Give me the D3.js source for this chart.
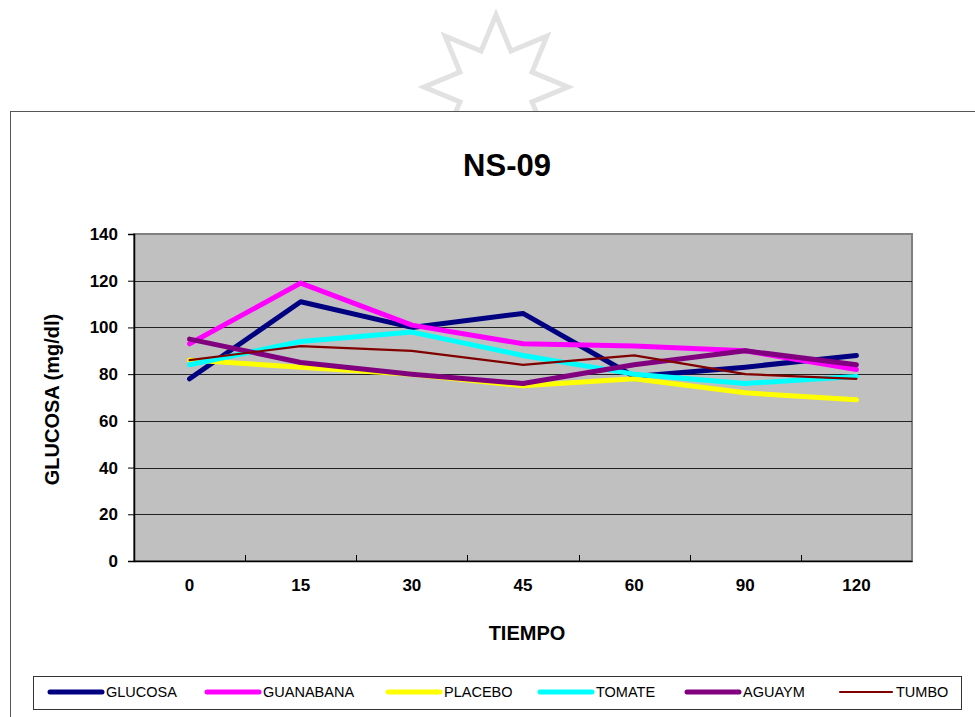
<!DOCTYPE html>
<html>
<head>
<meta charset="utf-8">
<script src="https://cdn.jsdelivr.net/npm/d3@7"></script>
<style>
  body { margin: 0; background: #fff; }
  svg { display: block; font-family: Arial, "Liberation Sans", sans-serif; }
</style>
</head>
<body>
<div id="chart"></div>
<script>
// data
const tiempos = ["0", "15", "30", "45", "60", "90", "120"];
const glucosa = [78, 111, 100, 106, 79, 83, 88];
const guanabana = [93, 119, 101, 93, 92, 90, 82];
const placebo = [86, 83, 80, 75, 78, 72, 69];
const tomate = [84, 94, 98, 88, 80, 76, 79];
const aguaym = [95, 85, 80, 76, 84, 90, 84];
const tumbo = [86, 92, 90, 84, 88, 80, 78];
const yTicks = [0, 20, 40, 60, 80, 100, 120, 140];

const series = [
  {name: "GLUCOSA", values: glucosa, color: "#000080", w: 5},
  {name: "GUANABANA", values: guanabana, color: "#ff00ff", w: 5},
  {name: "PLACEBO", values: placebo, color: "#ffff00", w: 5},
  {name: "TOMATE", values: tomate, color: "#00ffff", w: 5},
  {name: "AGUAYM", values: aguaym, color: "#800080", w: 5},
  {name: "TUMBO", values: tumbo, color: "#800000", w: 2.2}
];

const width = 975, height = 717;
const plot = {left: 134, right: 912, top: 234, bottom: 561};

const svg = d3.select("#chart").append("svg")
  .attr("width", width)
  .attr("height", height);

// background star behind the chart
const star = [];
const cx = 496, cy = 87, R = 72, r = 39;
for (let i = 0; i < 16; i++) {
  const a = -Math.PI / 2 + i * Math.PI / 8;
  const rad = i % 2 === 0 ? R : r;
  star.push([cx + rad * Math.cos(a), cy + rad * Math.sin(a)]);
}
svg.append("polygon")
  .attr("points", star.map(p => p.join(",")).join(" "))
  .attr("fill", "none")
  .attr("stroke", "#e2e2e2")
  .attr("stroke-width", 5);

// chart frame
svg.append("rect")
  .attr("x", 10.5).attr("y", 111.5)
  .attr("width", 980).attr("height", 620)
  .attr("fill", "#fff")
  .attr("stroke", "#555")
  .attr("stroke-width", 1);

svg.append("text")
  .attr("x", 507).attr("y", 176)
  .attr("text-anchor", "middle")
  .style("font-size", "31px")
  .style("font-weight", "bold")
  .text("NS-09");

const x = d3.scaleBand()
  .domain(tiempos)
  .range([plot.left, plot.right]);

const y = d3.scaleLinear()
  .domain([0, 140])
  .range([plot.bottom, plot.top]);

// plot area
svg.append("rect")
  .attr("x", plot.left).attr("y", plot.top)
  .attr("width", plot.right - plot.left)
  .attr("height", plot.bottom - plot.top)
  .attr("fill", "#c0c0c0")
  .attr("stroke", "#808080")
  .attr("stroke-width", 2);

// gridlines
svg.append("g")
  .selectAll("line")
  .data(yTicks.filter(d => d > 0 && d < 140))
  .join("line")
    .attr("x1", plot.left).attr("x2", plot.right)
    .attr("y1", d => Math.round(y(d)) + 0.5)
    .attr("y2", d => Math.round(y(d)) + 0.5)
    .attr("stroke", "#222")
    .attr("stroke-width", 1);

// y axis
const yAxis = svg.append("g")
  .attr("transform", `translate(${plot.left},0)`)
  .call(d3.axisLeft(y).tickValues(yTicks).tickSize(6).tickPadding(10));
yAxis.select(".domain").attr("stroke", "#000").attr("stroke-width", 1.5);
yAxis.selectAll(".tick line").attr("stroke", "#000");
yAxis.selectAll("text")
  .style("font-size", "17px")
  .style("font-weight", "bold")
  .style("font-family", "Arial, 'Liberation Sans', sans-serif");

// x axis
const xAxis = svg.append("g")
  .attr("transform", `translate(0,${plot.bottom})`)
  .call(d3.axisBottom(x).tickSize(0).tickPadding(18));
xAxis.select(".domain").attr("stroke", "#000").attr("stroke-width", 1.5);
xAxis.selectAll("text")
  .style("font-size", "17px")
  .style("font-weight", "bold")
  .style("font-family", "Arial, 'Liberation Sans', sans-serif");

// tick marks between categories
svg.append("g")
  .selectAll("line")
  .data(tiempos.slice(1))
  .join("line")
    .attr("x1", d => Math.round(x(d)) + 0.5)
    .attr("x2", d => Math.round(x(d)) + 0.5)
    .attr("y1", plot.bottom - 6)
    .attr("y2", plot.bottom)
    .attr("stroke", "#000");

// axis titles
svg.append("text")
  .attr("transform", `translate(59,${(plot.top + plot.bottom) / 2 + 2}) rotate(-90)`)
  .attr("text-anchor", "middle")
  .style("font-size", "20px")
  .style("font-weight", "bold")
  .text("GLUCOSA (mg/dl)");

svg.append("text")
  .attr("x", 527).attr("y", 640)
  .attr("text-anchor", "middle")
  .style("font-size", "20px")
  .style("font-weight", "bold")
  .text("TIEMPO");

// lines
const line = d3.line()
  .x((d, i) => x(tiempos[i]) + x.bandwidth() / 2)
  .y(d => y(d));

svg.append("g")
  .selectAll("path")
  .data(series)
  .join("path")
    .attr("d", d => line(d.values))
    .attr("fill", "none")
    .attr("stroke", d => d.color)
    .attr("stroke-width", d => d.w)
    .attr("stroke-linecap", "round")
    .attr("stroke-linejoin", "round");

// legend
const legend = svg.append("g");
legend.append("rect")
  .attr("x", 33.5).attr("y", 676.5)
  .attr("width", 928).attr("height", 33)
  .attr("fill", "#fff")
  .attr("stroke", "#333");

const legendX = [50, 207, 388, 540, 687, 840];
const item = legend.selectAll("g")
  .data(series)
  .join("g")
    .attr("transform", (d, i) => `translate(${legendX[i]},692)`);
item.append("line")
  .attr("x1", 0).attr("x2", 52)
  .attr("stroke", d => d.color)
  .attr("stroke-width", d => d.w)
  .attr("stroke-linecap", "round");
item.append("text")
  .attr("x", 56).attr("dy", "0.36em")
  .style("font-size", "14.5px")
  .text(d => d.name);
</script>
</body>
</html>
